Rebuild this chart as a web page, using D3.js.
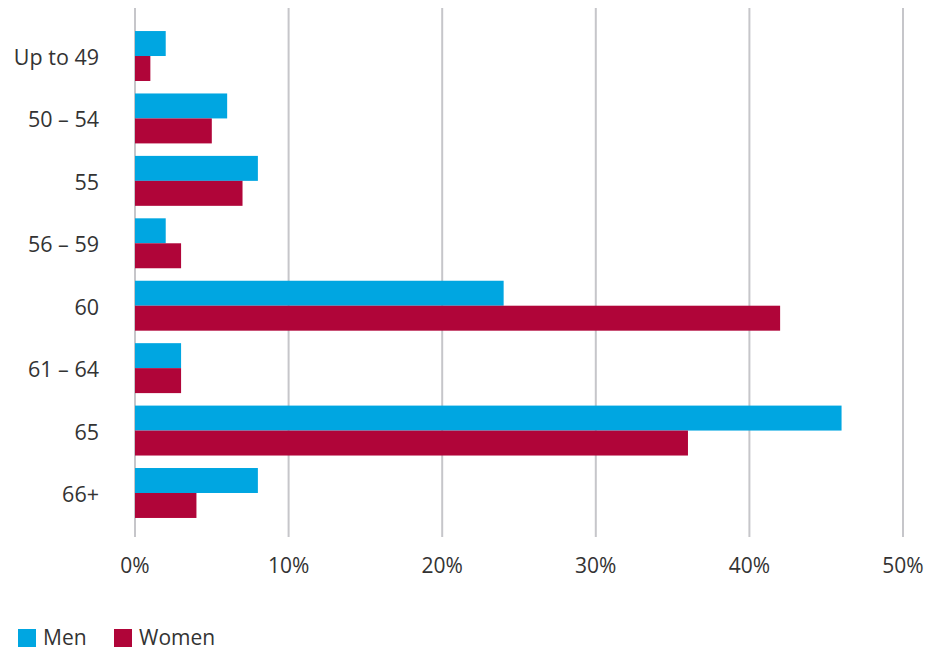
<!DOCTYPE html>
<html>
<head>
<meta charset="utf-8">
<script src="https://cdn.jsdelivr.net/npm/d3@7"></script>
<style>
  html, body { margin: 0; padding: 0; background: #fff; }
  svg text { font-family: "Open Sans", sans-serif; fill: #333; }
</style>
</head>
<body>
<svg id="chart" width="930" height="653"></svg>
<script>
// Age at which people expect to retire, by sex (%)
const categories = ["Up to 49", "50 – 54", "55", "56 – 59", "60", "61 – 64", "65", "66+"];
const series = ["Men", "Women"];
const men   = [2, 6, 8, 2, 24, 3, 46, 8];
const women = [1, 5, 7, 3, 42, 3, 36, 4];
const xTicks = [0, 10, 20, 30, 40, 50];
const colors = ["#00a6e1", "#b00539"];

const svg = d3.select("#chart");
const x = d3.scaleLinear().domain([0, 50]).range([135, 903]);
const y = d3.scaleBand().domain(categories).range([24.8, 524.2])
  .paddingInner(0.2).paddingOuter(0.1);
const ySub = d3.scaleBand().domain(series).range([0, y.bandwidth()]);
const color = d3.scaleOrdinal().domain(series).range(colors);

// vertical gridlines
svg.append("g").selectAll("line").data(xTicks).join("line")
  .attr("x1", d => x(d)).attr("x2", d => x(d))
  .attr("y1", 8).attr("y2", 537)
  .attr("stroke", "#c6c6ca").attr("stroke-width", 2);

// bars
const rows = categories.map((c, i) => ({ c, vals: [men[i], women[i]] }));
const grp = svg.append("g").selectAll("g").data(rows).join("g")
  .attr("transform", d => `translate(0,${y(d.c)})`);
grp.selectAll("rect").data(d => d.vals.map((v, j) => ({ s: series[j], v })))
  .join("rect")
  .attr("x", x(0))
  .attr("y", d => ySub(d.s))
  .attr("width", d => x(d.v) - x(0))
  .attr("height", ySub.bandwidth())
  .attr("fill", d => color(d.s));

// category labels
svg.append("g").selectAll("text").data(categories).join("text")
  .attr("x", 99).attr("y", d => y(d) + y.bandwidth() / 2 + 1.5)
  .attr("dy", "0.35em").attr("text-anchor", "end")
  .attr("font-size", 21.5).text(d => d);

// x tick labels
svg.append("g").selectAll("text").data(xTicks).join("text")
  .attr("x", d => x(d)).attr("y", 573)
  .attr("text-anchor", "middle").attr("font-size", 21)
  .text(d => d + "%");

// legend
const leg = svg.append("g").selectAll("g").data(series).join("g")
  .attr("transform", (d, i) => `translate(${18 + i * 96},629)`);
leg.append("rect").attr("width", 18).attr("height", 18).attr("fill", d => color(d));
leg.append("text").attr("x", 25).attr("y", 9).attr("dy", "0.35em")
  .attr("font-size", 21).text(d => d);
</script>
</body>
</html>
